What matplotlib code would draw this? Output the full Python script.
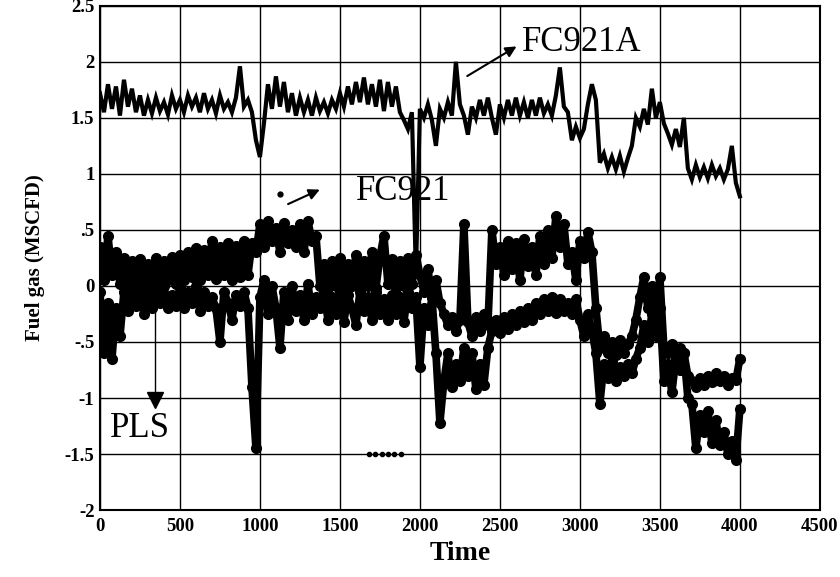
import matplotlib
matplotlib.use("Agg")
import matplotlib.pyplot as plt
import numpy as np

plt.rcParams['font.family'] = ['Liberation Serif', 'DejaVu Serif']

# time axis, one reading every 25 samples
t = np.arange(0, 4025, 25)

# FC921A measured fuel gas (solid line)
fc921a = [
    1.72, 1.55, 1.80, 1.58, 1.78, 1.52, 1.84, 1.60, 1.76, 1.55,
    1.70, 1.52, 1.66, 1.54, 1.68, 1.56, 1.64, 1.53, 1.70, 1.58,
    1.66, 1.55, 1.70, 1.60, 1.68, 1.55, 1.72, 1.58, 1.66, 1.54,
    1.70, 1.58, 1.64, 1.55, 1.68, 1.96, 1.60, 1.66, 1.55, 1.30,
    1.15, 1.45, 1.80, 1.58, 1.87, 1.60, 1.82, 1.55, 1.72, 1.52,
    1.68, 1.55, 1.66, 1.52, 1.68, 1.56, 1.64, 1.54, 1.66, 1.58,
    1.72, 1.60, 1.78, 1.62, 1.82, 1.64, 1.86, 1.62, 1.80, 1.60,
    1.84, 1.56, 1.82, 1.60, 1.78, 1.55, 1.48, 1.40, 1.55, 0.10,
    1.58, 1.50, 1.62, 1.48, 1.25, 1.58, 1.50, 1.64, 1.52, 2.00,
    1.62, 1.52, 1.35, 1.60, 1.50, 1.66, 1.52, 1.68, 1.50, 1.35,
    1.62, 1.50, 1.66, 1.52, 1.68, 1.52, 1.64, 1.50, 1.66, 1.52,
    1.68, 1.54, 1.62, 1.52, 1.70, 1.95, 1.60, 1.55, 1.30, 1.42,
    1.32, 1.40, 1.62, 1.80, 1.66, 1.10, 1.18, 1.05, 1.15, 1.04,
    1.16, 1.02, 1.14, 1.25, 1.50, 1.42, 1.58, 1.44, 1.76, 1.50,
    1.64, 1.45, 1.36, 1.26, 1.40, 1.24, 1.50, 1.05, 0.95, 1.08,
    0.97, 1.06, 0.96, 1.08, 0.98, 1.05, 0.95, 1.04, 1.25, 0.92,
    0.80,
]

# FC921 (dotted, upper of the two lower traces)
fc921 = [
    0.35, 0.05, 0.45, 0.10, 0.30, 0.02, 0.25, 0.02, 0.22, 0.00,
    0.24, 0.04, 0.20, 0.00, 0.25, 0.02, 0.22, 0.05, 0.26, 0.02,
    0.28, 0.05, 0.30, 0.08, 0.34, 0.05, 0.32, 0.10, 0.40, 0.06,
    0.35, 0.10, 0.38, 0.05, 0.36, 0.08, 0.40, 0.10, 0.38, 0.30,
    0.55, 0.35, 0.58, 0.40, 0.52, 0.30, 0.56, 0.38, 0.50, 0.35,
    0.55, 0.30, 0.58, 0.40, 0.45, 0.00, 0.20, -0.02, 0.22, 0.00,
    0.25, -0.02, 0.20, 0.00, 0.28, -0.03, 0.22, 0.00, 0.30, -0.02,
    0.26, 0.45, 0.02, 0.24, -0.02, 0.22, 0.00, 0.25, 0.02, 0.28,
    0.10, -0.05, 0.15, -0.10, 0.05, -0.15, -0.25, -0.35, -0.28, -0.40,
    -0.30, 0.55, -0.32, -0.45, -0.28, -0.40, -0.25, -0.35, 0.50, 0.20,
    0.35, 0.10, 0.40, 0.15, 0.38, 0.05, 0.42, 0.18, 0.35, 0.10,
    0.45, 0.20, 0.50, 0.25, 0.62, 0.35, 0.55, 0.20, 0.30, 0.05,
    0.40, 0.25, 0.48, 0.30, -0.20, -0.55, -0.45, -0.60, -0.50, -0.62,
    -0.48, -0.60, -0.52, -0.45, -0.30, -0.10, 0.08, -0.20, 0.00, -0.25,
    0.08, -0.55, -0.60, -0.52, -0.65, -0.55, -0.60, -0.80, -0.85, -0.90,
    -0.82, -0.88, -0.80, -0.86, -0.78, -0.85, -0.80, -0.88, -0.82, -0.84,
    -0.65,
]

# PLS prediction (dotted, lower trace)
pls = [
    -0.05, -0.60, -0.15, -0.65, -0.20, -0.45, -0.05, -0.22, 0.00, -0.18,
    -0.02, -0.25, 0.02, -0.20, -0.05, -0.15, 0.00, -0.20, -0.08, -0.18,
    -0.02, -0.20, -0.05, -0.15, 0.00, -0.22, -0.05, -0.18, -0.10, -0.20,
    -0.50, -0.05, -0.15, -0.30, -0.08, -0.18, -0.05, -0.20, -0.90, -1.45,
    -0.10, 0.05, -0.25, 0.00, -0.20, -0.55, -0.05, -0.30, 0.00, -0.22,
    -0.08, -0.30, 0.02, -0.25, -0.10, -0.20, -0.05, -0.30, -0.10, -0.25,
    -0.05, -0.32, -0.08, -0.20, -0.35, -0.05, -0.22, -0.10, -0.30, -0.05,
    -0.25, -0.12, -0.30, -0.08, -0.25, -0.10, -0.32, -0.05, -0.20, -0.10,
    -0.72, -0.20, -0.35, -0.10, -0.60, -1.22, -0.85, -0.60, -0.90, -0.70,
    -0.85, -0.55, -0.80, -0.60, -0.92, -0.70, -0.88, -0.55, -0.40, -0.30,
    -0.42, -0.28, -0.38, -0.25, -0.35, -0.22, -0.32, -0.20, -0.30, -0.15,
    -0.25, -0.12, -0.22, -0.10, -0.24, -0.12, -0.22, -0.15, -0.25, -0.12,
    -0.30, -0.45, -0.25, -0.40, -0.60, -1.05, -0.70, -0.82, -0.68, -0.85,
    -0.72, -0.80, -0.70, -0.78, -0.65, -0.55, -0.35, -0.50, -0.25, -0.45,
    -0.20, -0.85, -0.70, -0.95, -0.65, -0.75, -0.60, -1.00, -1.05, -1.45,
    -1.15, -1.30, -1.12, -1.40, -1.20, -1.42, -1.30, -1.50, -1.38, -1.55,
    -1.10,
]

# a few stray PLS points sitting on the -1.5 line
pls_floor_t = [1680, 1720, 1760, 1800, 1840, 1880]
pls_floor_v = [-1.5, -1.5, -1.5, -1.5, -1.5, -1.5]

x_ticks = [0, 500, 1000, 1500, 2000, 2500, 3000, 3500, 4000, 4500]
y_ticks = [2.5, 2, 1.5, 1, 0.5, 0, -0.5, -1, -1.5, -2]
y_tick_labels = ['2.5', '2', '1.5', '1', '.5', '0', '-.5', '-1', '-1.5', '-2']

fig = plt.figure(figsize=(8.4, 5.77), dpi=100)
ax = fig.add_axes([0.119, 0.116, 0.857, 0.874])

ax.plot(t, fc921a, color='black', lw=3.0, solid_joinstyle='miter')
ax.plot(t, fc921, '-o', color='black', lw=5.5, ms=7)
ax.plot(t, pls, '-o', color='black', lw=5.5, ms=7)
ax.plot(pls_floor_t, pls_floor_v, 'o', color='black', ms=3)

ax.set_xlim(0, 4500)
ax.set_ylim(-2, 2.5)
ax.set_xticks(x_ticks)
ax.set_xticklabels([str(v) for v in x_ticks])
ax.set_yticks(y_ticks)
ax.set_yticklabels(y_tick_labels)
ax.tick_params(length=0, labelsize=13.5, pad=6)
ax.tick_params(axis='y', pad=4)
for lab in ax.get_xticklabels() + ax.get_yticklabels():
    lab.set_fontweight('bold')
ax.grid(True, color='black', lw=1.0)
ax.set_axisbelow(True)
for s in ax.spines.values():
    s.set_linewidth(1.5)

ax.set_xlabel('Time', fontsize=20, fontweight='bold', labelpad=4)
ax.set_ylabel('Fuel gas (MSCFD)', fontsize=15, fontweight='bold', labelpad=14)

# labels with arrows
ax.annotate('', xy=(2619, 2.15), xytext=(2281, 1.86),
            arrowprops=dict(arrowstyle='-|>', color='black', lw=1.5, mutation_scale=16))
ax.text(2640, 2.17, 'FC921A', fontsize=25, va='center')

ax.plot([1125], [0.82], 'o', color='black', ms=3.5)
ax.annotate('', xy=(1390, 0.87), xytext=(1160, 0.72),
            arrowprops=dict(arrowstyle='-|>', color='black', lw=1.5, mutation_scale=16))
ax.text(1600, 0.84, 'FC921', fontsize=25, va='center')

ax.plot([344, 344], [-0.21, -0.95], color='black', lw=1.0)
ax.plot([344], [-1.02], marker='v', color='black', ms=12)
ax.text(60, -1.27, 'PLS', fontsize=25, va='center')

fig.savefig('out.png', dpi=100)
